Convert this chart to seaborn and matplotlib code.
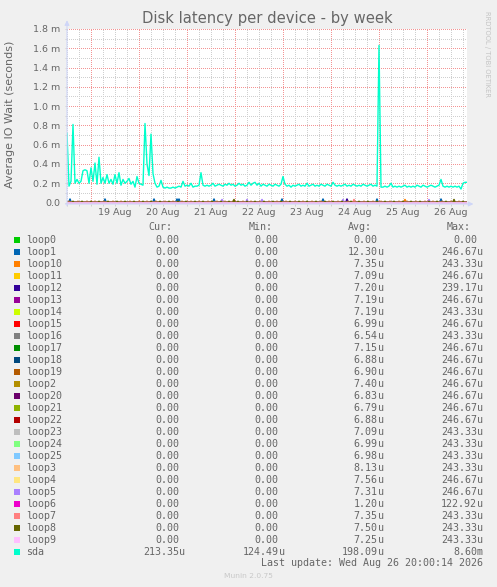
import numpy as np
import pandas as pd
import matplotlib
matplotlib.use("Agg")  # no display
import matplotlib.pyplot as plt
import matplotlib.dates as mdates
from matplotlib.ticker import MultipleLocator, FuncFormatter, FixedLocator
from matplotlib.patches import Rectangle
import seaborn as sns

# --- Data -------------------------------------------------------------
START = pd.Timestamp("2026-08-18 12:00")
END = pd.Timestamp("2026-08-26 20:00")

devices = ["loop0", "loop1", "loop10", "loop11", "loop12", "loop13", "loop14",
           "loop15", "loop16", "loop17", "loop18", "loop19", "loop2", "loop20",
           "loop21", "loop22", "loop23", "loop24", "loop25", "loop3", "loop4",
           "loop5", "loop6", "loop7", "loop8", "loop9", "sda"]
colors = ["#00CC00", "#0066B3", "#FF8000", "#FFCC00", "#330099", "#990099", "#CCFF00",
          "#FF0000", "#808080", "#008F00", "#00487D", "#B35A00", "#B38F00", "#6B006B",
          "#8FB300", "#B30000", "#BEBEBE", "#80FF80", "#80C9FF", "#FFC080", "#FFE680",
          "#AA80FF", "#EE00CC", "#FF8080", "#666600", "#FFBFFF", "#00FFCC"]

cur_vals = ["0.00"] * 26 + ["213.35u"]
min_vals = ["0.00"] * 26 + ["124.49u"]
avg_vals = ["0.00", "12.30u", "7.35u", "7.09u", "7.20u", "7.19u", "7.19u", "6.99u",
            "6.54u", "7.15u", "6.88u", "6.90u", "7.40u", "6.83u", "6.79u", "6.88u",
            "7.09u", "6.99u", "6.98u", "8.13u", "7.56u", "7.31u", "1.20u", "7.35u",
            "7.50u", "7.25u", "198.09u"]
max_vals = ["0.00", "246.67u", "243.33u", "246.67u", "239.17u", "246.67u", "243.33u",
            "246.67u", "243.33u", "246.67u", "246.67u", "246.67u", "246.67u", "246.67u",
            "246.67u", "246.67u", "243.33u", "243.33u", "243.33u", "243.33u", "246.67u",
            "246.67u", "122.92u", "243.33u", "243.33u", "243.33u", "8.60m"]

# x labels sit at noon of each day
day_labels = ["2026-08-19", "2026-08-20", "2026-08-21", "2026-08-22",
              "2026-08-23", "2026-08-24", "2026-08-25", "2026-08-26"]

# sda average IO wait, hourly from START, in milliseconds
sda_ms = [
    0.72, 0.17, 0.22, 0.81, 0.20, 0.24, 0.20, 0.22, 0.33, 0.34,
    0.33, 0.20, 0.36, 0.22, 0.41, 0.19, 0.47, 0.20, 0.26, 0.20,
    0.29, 0.20, 0.24, 0.19, 0.29, 0.20, 0.31, 0.18, 0.24, 0.20,
    0.22, 0.25, 0.19, 0.22, 0.16, 0.27, 0.20, 0.19, 0.18, 0.82,
    0.40, 0.28, 0.71, 0.30, 0.20, 0.16, 0.17, 0.23, 0.16, 0.15,
    0.16, 0.15, 0.15, 0.16, 0.15, 0.16, 0.17, 0.16, 0.22, 0.17,
    0.18, 0.17, 0.20, 0.16, 0.17, 0.17, 0.18, 0.31, 0.18, 0.17,
    0.18, 0.17, 0.18, 0.20, 0.17, 0.18, 0.19, 0.18, 0.17, 0.19,
    0.18, 0.20, 0.18, 0.19, 0.17, 0.18, 0.20, 0.18, 0.19, 0.17,
    0.18, 0.21, 0.18, 0.20, 0.21, 0.18, 0.20, 0.17, 0.19, 0.18,
    0.17, 0.19, 0.18, 0.17, 0.19, 0.18, 0.17, 0.19, 0.27, 0.19,
    0.17, 0.18, 0.16, 0.18, 0.17, 0.18, 0.19, 0.17, 0.18, 0.17,
    0.20, 0.17, 0.18, 0.19, 0.17, 0.18, 0.17, 0.19, 0.18, 0.17,
    0.19, 0.18, 0.17, 0.21, 0.18, 0.17, 0.18, 0.17, 0.18, 0.19,
    0.17, 0.18, 0.17, 0.19, 0.18, 0.17, 0.18, 0.17, 0.19, 0.18,
    0.17, 0.18, 0.19, 0.17, 0.18, 0.17, 1.63, 0.16, 0.16, 0.17,
    0.16, 0.17, 0.20, 0.16, 0.17, 0.16, 0.17, 0.16, 0.17, 0.18,
    0.16, 0.17, 0.16, 0.17, 0.16, 0.18, 0.17, 0.16, 0.18, 0.17,
    0.16, 0.17, 0.18, 0.17, 0.16, 0.17, 0.18, 0.24, 0.17, 0.16,
    0.17, 0.16, 0.17, 0.16, 0.17, 0.16, 0.17, 0.14, 0.20, 0.21,
    0.21,
]

# loop device blips (hours after START, value in ms)
loop1_h = [1.5, 19, 43.5, 55, 56, 73.5, 107.5, 128, 155, 187]
loop1_v = [0.035, 0.035, 0.035, 0.035, 0.035, 0.035, 0.035, 0.035, 0.035, 0.035]
loop12_h = [140]
loop12_v = [0.035]
loop5_h = [77.5, 90, 97.5, 138, 181]
loop5_v = [0.03, 0.03, 0.03, 0.03, 0.03]
loop7_h = [143.5]
loop7_v = [0.03]
loop10_h = [169]
loop10_v = [0.03]
loop8_h = [3, 7.5, 12, 16, 20.5, 25, 29, 33.5, 38, 42, 46.5, 51, 55.5, 59.5, 64,
           68, 72.5, 77, 81, 83.5, 85.5, 90, 94, 98.5, 103, 107, 111.5, 116, 120,
           124.5, 129, 133, 137.5, 142, 146, 150.5, 155, 159, 163.5, 168, 172,
           176.5, 181, 185, 189.5, 193.5, 198]
loop8_v = [0.012] * 19 + [0.03] + [0.012] * 25 + [0.03, 0.012]
loop19_h = [1, 5.5, 10, 14, 18.5, 23, 27, 31.5, 36, 40, 44.5, 49, 53, 57.5, 62, 66,
            70.5, 75, 79, 83, 88, 92, 96.5, 101, 105, 109.5, 114, 118, 122.5, 127,
            131, 135.5, 140.5, 144, 148.5, 153, 157, 161.5, 166, 170, 174.5, 179,
            183, 187.5, 192, 196]
loop19_v = [0.012] * 46

blips = {
    "loop1": (loop1_h, loop1_v),
    "loop12": (loop12_h, loop12_v),
    "loop5": (loop5_h, loop5_v),
    "loop7": (loop7_h, loop7_v),
    "loop10": (loop10_h, loop10_v),
    "loop8": (loop8_h, loop8_v),
    "loop19": (loop19_h, loop19_v),
}

# --- Long-format frame ------------------------------------------------
half_hours = pd.date_range(START, END, freq="30min")
hours = pd.date_range(START, END, freq="h")
frames = []
for name in devices[:-1]:
    vals = np.zeros(len(half_hours))
    if name in blips:
        for h, v in zip(*blips[name]):
            vals[int(round(h * 2))] = v
    frames.append(pd.DataFrame({"time": half_hours, "value": vals, "device": name}))
frames.append(pd.DataFrame({"time": hours, "value": sda_ms, "device": "sda"}))
df = pd.concat(frames, ignore_index=True)

# --- Figure -----------------------------------------------------------
sns.set_style("white")
plt.rcParams["font.family"] = ["DejaVu Sans"]

W, H = 497, 587
FONT = "#666666"
GRID = "#CFCFCF"
MGRID = "#F39494"
AXIS = "#CFD6F8"
DOT = (0, (1, 2))


def fx(x):
    return x / W


def fy(y):
    return 1 - y / H


fig = plt.figure(figsize=(W / 100, H / 100), dpi=100, facecolor="#F0F0F0")
ax = fig.add_axes([fx(67), fy(204), 400 / W, 175 / H])
ax.set_facecolor("white")

sns.lineplot(data=df, x="time", y="value", hue="device", hue_order=devices,
             palette=dict(zip(devices, colors)), estimator=None, legend=False,
             linewidth=1.0, ax=ax)
for line in ax.get_lines()[:-1]:
    line.set_linewidth(1.3)

ax.set_xlim(START, END)
ax.set_ylim(-0.015, 1.8)
ax.set_xlabel("")
ax.set_ylabel("")
for s in ax.spines.values():
    s.set_visible(False)

grid_kw = dict(linestyle=DOT, linewidth=0.72, antialiased=False)

# y axis
ax.yaxis.set_major_locator(MultipleLocator(0.2))
ax.yaxis.set_minor_locator(MultipleLocator(0.1))
ax.yaxis.set_major_formatter(FuncFormatter(lambda v, _: "0.0" if abs(v) < 1e-9 else f"{v:.1f} m"))
ax.grid(True, which="minor", axis="y", color=GRID, **grid_kw)
ax.grid(True, which="major", axis="y", color=MGRID, **grid_kw)

# x axis
noon = [mdates.date2num(pd.Timestamp(d) + pd.Timedelta(hours=12)) for d in day_labels]
ax.xaxis.remove_overlapping_locs = False
ax.xaxis.set_major_locator(FixedLocator(noon))
ax.xaxis.set_major_formatter(mdates.DateFormatter("%d %b"))
ax.xaxis.set_minor_locator(mdates.HourLocator(byhour=[0, 6, 12, 18]))
ax.grid(True, which="minor", axis="x", color=GRID, **grid_kw)
ax.grid(False, which="major", axis="x")
for d in day_labels:
    ax.axvline(pd.Timestamp(d), color=MGRID, zorder=0.9, **grid_kw)
ax.set_axisbelow(True)

ax.tick_params(axis="y", which="both", length=1.5, width=0.7, color=GRID,
               labelsize=6.8, labelcolor=FONT, pad=3.6, left=True)
ax.tick_params(axis="x", which="minor", length=1.5, width=0.7, color=GRID, bottom=True)
ax.tick_params(axis="x", which="major", length=0, labelsize=6.8, labelcolor=FONT,
               pad=3.2, bottom=True)

# axis lines with arrows
ax.annotate("", xy=(1.016, 0), xytext=(-0.004, 0), xycoords="axes fraction",
            arrowprops=dict(arrowstyle="-|>", color=AXIS, lw=0.8, mutation_scale=7,
                            shrinkA=0, shrinkB=0), annotation_clip=False)
ax.annotate("", xy=(0, 1.05), xytext=(0, -0.01), xycoords="axes fraction",
            arrowprops=dict(arrowstyle="-|>", color=AXIS, lw=0.8, mutation_scale=7,
                            shrinkA=0, shrinkB=0), annotation_clip=False)

# titles
fig.text(fx(267), fy(19), "Disk latency per device - by week", ha="center", va="center",
         fontsize=10.6, color=FONT)
fig.text(fx(10.5), fy(114), "Average IO Wait (seconds)", ha="center", va="center",
         rotation=90, fontsize=8, color=FONT)
fig.text(fx(487), fy(54), "RRDTOOL / TOBI OETIKER", ha="center", va="center",
         rotation=270, fontsize=4.9, color="#C4C4C4")

# legend table
MONO = "DejaVu Sans Mono"
LSIZE = 7.2
for hx, label in zip([172.8, 272.2, 371.6, 470.8], ["Cur:", "Min:", "Avg:", "Max:"]):
    fig.text(fx(hx), fy(227.5), label, ha="right", va="center", family=MONO,
             fontsize=LSIZE, color=FONT)

col_x = [179.5, 278.6, 377.7, 476.9]
for i, name in enumerate(devices):
    y = 239.6 + 12 * i
    fig.add_artist(Rectangle((fx(14), fy(y + 3)), 6 / W, 6 / H, transform=fig.transFigure,
                             facecolor=colors[i], edgecolor="none"))
    fig.text(fx(26.2), fy(y), name, ha="left", va="center", family=MONO,
             fontsize=LSIZE, color=FONT)
    for cx, val in zip(col_x, [cur_vals[i], min_vals[i], avg_vals[i], max_vals[i]]):
        num, unit = (val[:-1], val[-1]) if val[-1].isalpha() else (val, "")
        fig.text(fx(cx), fy(y), num, ha="right", va="center", family=MONO,
                 fontsize=LSIZE, color=FONT)
        if unit:
            fig.text(fx(cx), fy(y), unit, ha="left", va="center", family=MONO,
                     fontsize=LSIZE, color=FONT)

fig.text(fx(483), fy(563.5), "Last update: Wed Aug 26 20:00:14 2026", ha="right",
         va="center", family=MONO, fontsize=LSIZE, color=FONT)
fig.text(fx(248), fy(575.8), "Munin 2.0.75", ha="center", va="center",
         fontsize=5.4, color="#C8C8C8")

fig.savefig("out.png", dpi=100, facecolor=fig.get_facecolor())
plt.close(fig)
